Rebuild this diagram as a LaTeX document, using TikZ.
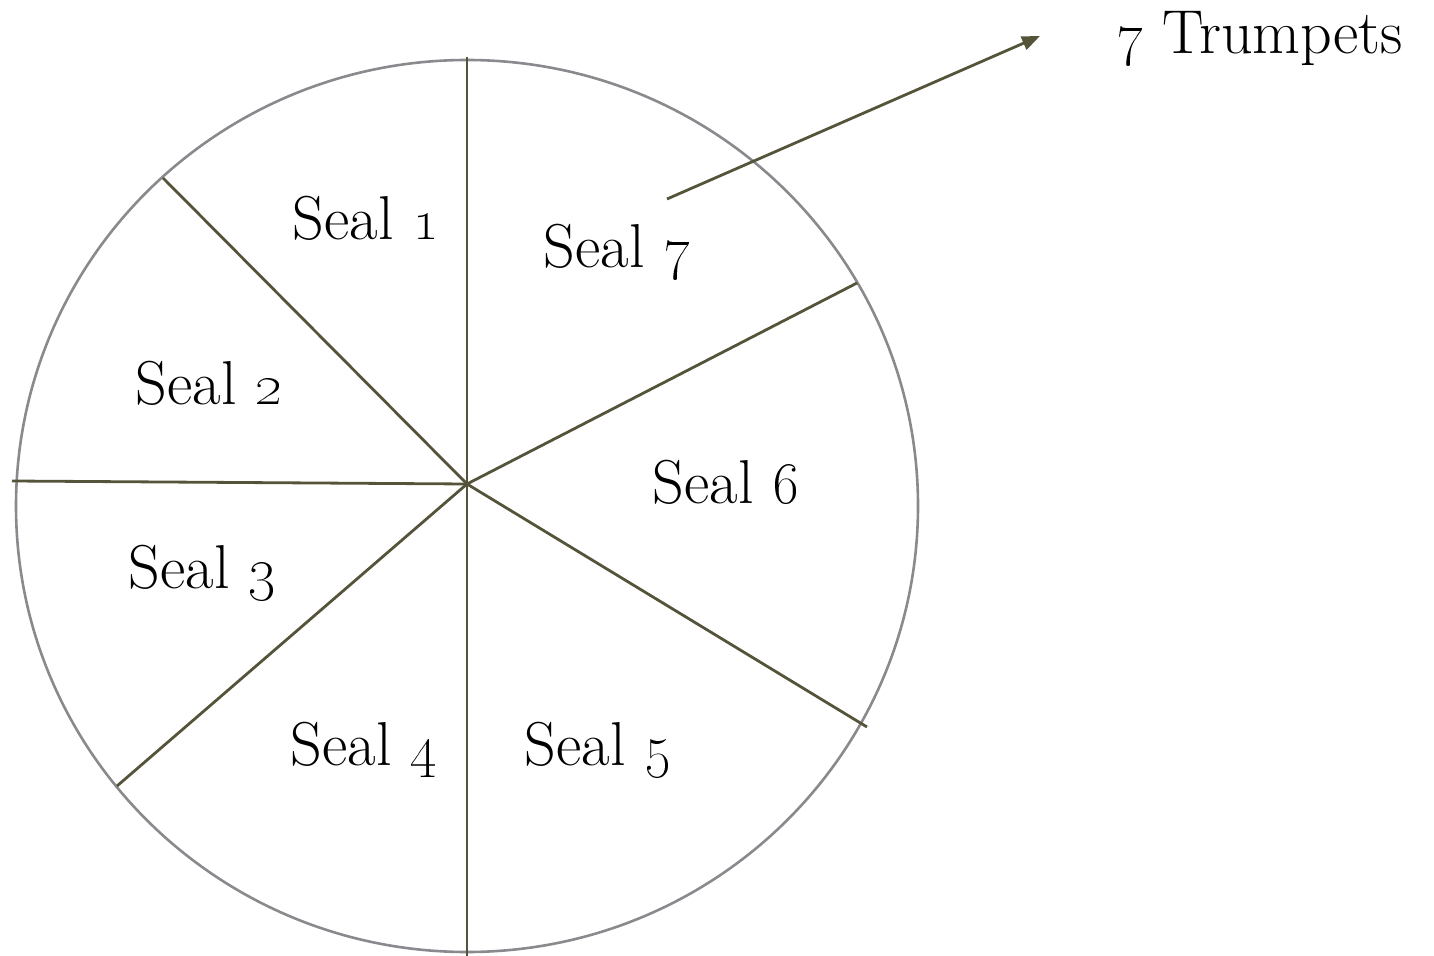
\documentclass[tikz,border=0pt]{standalone}
\usetikzlibrary{arrows.meta}
\definecolor{spoke}{HTML}{55543A}
\definecolor{rim}{HTML}{8A898E}
\begin{document}
\begin{tikzpicture}[x=0.5pt,y=-0.5pt,
  spk/.style={draw=spoke,line width=1.4pt},
  lbl/.style={font=\fontsize{31}{36}\selectfont,inner sep=0pt}]
\useasboundingbox (0,0) rectangle (1434,956);
\coordinate (O) at (467,484);
\draw[rim,line width=1.3pt] (467,506) ellipse [x radius=451, y radius=446];
\coordinate (pN) at (467,57);
\coordinate (pS) at (467,956);
\coordinate (pNW) at (163,178);
\coordinate (pW) at (12,481);
\coordinate (pSW) at (117,786);
\coordinate (pSE) at (867,727);
\coordinate (pNE) at (857,283);
\foreach \p in {pN,pS,pNW,pW,pSW,pSE,pNE} \draw[spk] (O) -- (\p);
\node[lbl] (s1) at (366,218) {Seal \oldstylenums{1}};
\node[lbl] (s2) at (209,383) {Seal \oldstylenums{2}};
\node[lbl] (s3) at (202,573) {Seal \oldstylenums{3}};
\node[lbl] (s4) at (364,750) {Seal \oldstylenums{4}};
\node[lbl] (s5) at (598,750) {Seal \oldstylenums{5}};
\node[lbl] (s6) at (726,482) {Seal \oldstylenums{6}};
\node[lbl] (s7) at (617,252) {Seal \oldstylenums{7}};
\node[lbl] (tr) at (1260,38) {\oldstylenums{7} Trumpets};
\coordinate (a0) at (667,199);
\coordinate (a1) at (1040,36);
\draw[spk,-{Triangle[length=9pt,width=7pt]}] (a0) -- (a1);
\end{tikzpicture}
\end{document}
